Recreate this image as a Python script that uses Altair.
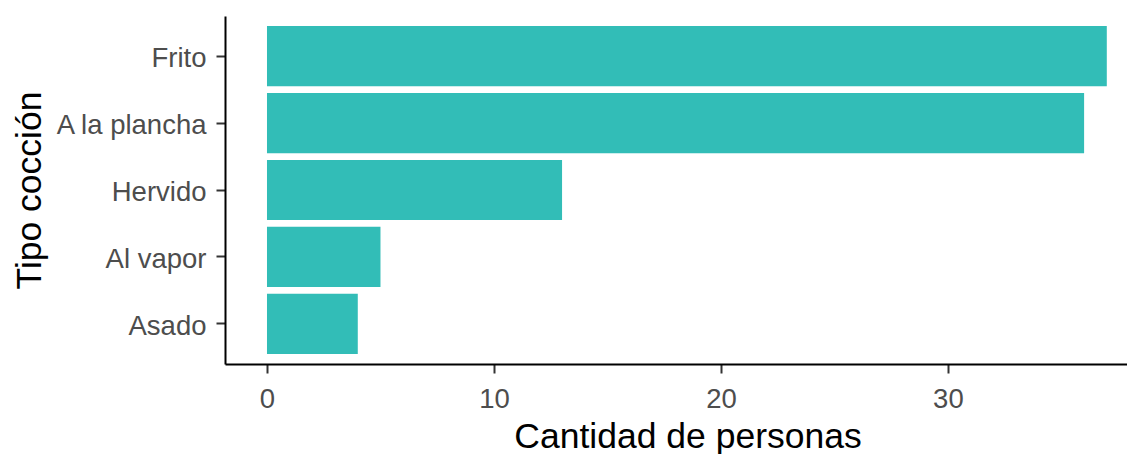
import altair as alt
import pandas as pd

categorias = ["Frito", "A la plancha", "Hervido", "Al vapor", "Asado"]
cantidades = [37, 36, 13, 5, 4]
x_ticks = [0, 10, 20, 30]

df = pd.DataFrame({"tipo": categorias, "cantidad": cantidades})

FONT = "Liberation Sans"

chart = alt.Chart(df).mark_bar(color="#32BDB7").encode(
    x=alt.X(
        "cantidad:Q",
        scale=alt.Scale(domain=[-1.85, 37.89], nice=False, zero=False),
        axis=alt.Axis(
            title="Cantidad de personas",
            values=x_ticks,
            grid=False,
            labelPadding=12,
            labelFlush=False,
            labelOverlap=False,
            titleX=462.5,
            titleY=83,
            titleAlign="center",
            titleBaseline="alphabetic",
        ),
    ),
    x2=alt.datum(0),
    y=alt.Y(
        "tipo:N",
        sort=categorias,
        scale=alt.Scale(paddingInner=0.1, paddingOuter=0.15),
        axis=alt.Axis(
            title="Tipo cocción",
            grid=False,
            labelPadding=10,
            labelOffset=3,
            titleAngle=270,
            titleX=-185,
            titleY=174,
            titleAlign="center",
            titleBaseline="alphabetic",
        ),
    ),
).properties(
    width=902,
    height=348,
    autosize=alt.AutoSizeParams(type="none"),
    padding={"left": 217, "top": 8, "right": 0, "bottom": 92},
).configure_view(
    stroke=None
).configure_axis(
    labelFont=FONT,
    labelFontSize=27.5,
    labelColor="#4D4D4D",
    titleFont=FONT,
    titleFontSize=35.5,
    titleColor="#000000",
    titleFontWeight="normal",
    domainColor="#000000",
    domainWidth=2,
    tickColor="#333333",
    tickWidth=2,
    tickSize=9,
)

chart.save("out.html", embed_options={"renderer": "svg", "actions": False})
